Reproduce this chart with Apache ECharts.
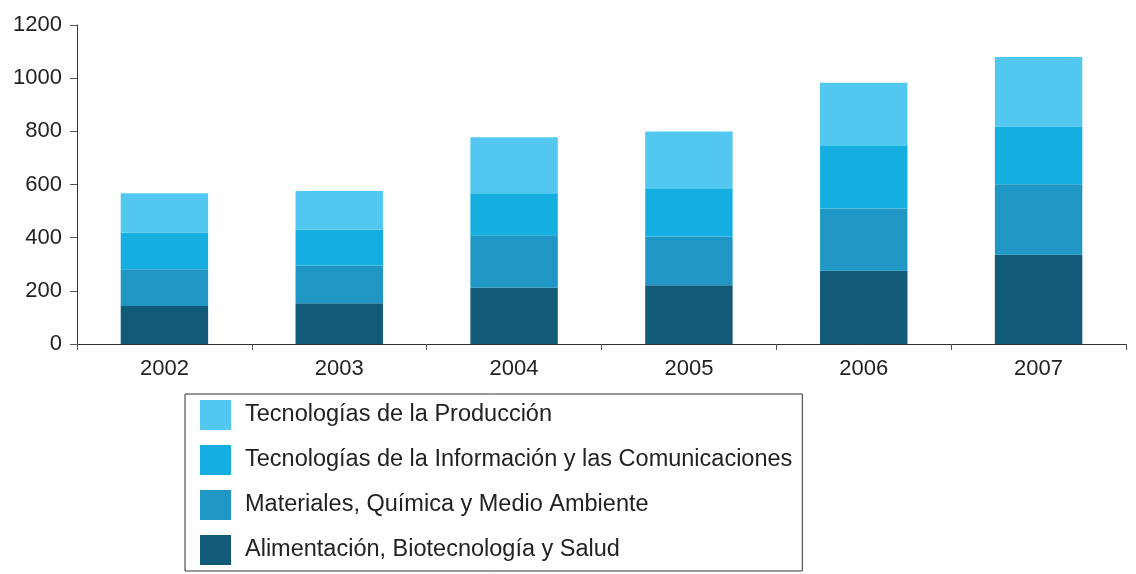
<!DOCTYPE html>
<html>
<head>
<meta charset="utf-8">
<script src="https://cdn.jsdelivr.net/npm/echarts@6/dist/echarts.min.js"></script>
<style>
  html, body { margin: 0; padding: 0; background: #fff; }
  #chart { width: 1136px; height: 574px; }
</style>
</head>
<body>
<div id="chart"></div>
<script>
var years = ['2002', '2003', '2004', '2005', '2006', '2007'];
var alimentacion = [143, 153, 212, 221, 276, 336];
var materiales = [138, 142, 197, 183, 234, 265];
var tic = [138, 136, 158, 182, 235, 217];
var produccion = [148, 145, 211, 213, 238, 262];

var names = [
  'Alimentación, Biotecnología y Salud',
  'Materiales, Química y Medio Ambiente',
  'Tecnologías de la Información y las Comunicaciones',
  'Tecnologías de la Producción'
];
var colors = ['#125b78', '#2096c4', '#14afe0', '#52c8f0'];
var values = [alimentacion, materiales, tic, produccion];

var myChart = echarts.init(document.getElementById('chart'));

var series = [];
for (var i = 0; i < names.length; i++) {
  series.push({
    name: names[i],
    type: 'bar',
    stack: 'total',
    barWidth: '50%',
    data: values[i],
    itemStyle: { color: colors[i] }
  });
}

var option = {
  animation: false,
  backgroundColor: '#fff',
  textStyle: { fontFamily: 'Liberation Sans, Arial, sans-serif' },
  grid: { left: 77, right: 10, top: 25, bottom: 230 },
  legend: {
    orient: 'vertical',
    left: 185,
    top: 394,
    data: [names[3], names[2], names[1], names[0]],
    icon: 'rect',
    itemWidth: 31,
    itemHeight: 30,
    itemGap: 15,
    borderColor: '#333',
    borderWidth: 1,
    padding: [6, 10, 6, 15],
    textStyle: { fontSize: 23.5, color: '#222', padding: [0, 0, 0, 9] }
  },
  xAxis: {
    type: 'category',
    data: years,
    axisLine: { lineStyle: { color: '#333', width: 1 } },
    axisTick: { show: true, length: 6, lineStyle: { color: '#555' } },
    axisLabel: { fontSize: 22, color: '#222', margin: 14 }
  },
  yAxis: {
    type: 'value',
    min: 0,
    max: 1200,
    interval: 200,
    splitLine: { show: false },
    axisLine: { show: true, lineStyle: { color: '#333', width: 1 } },
    axisTick: { show: true, length: 7, lineStyle: { color: '#555' } },
    axisLabel: {
      fontSize: 22,
      color: '#222',
      margin: 15,
      formatter: function (v) { return String(v); }
    }
  },
  series: series
};

myChart.setOption(option);
</script>
</body>
</html>
